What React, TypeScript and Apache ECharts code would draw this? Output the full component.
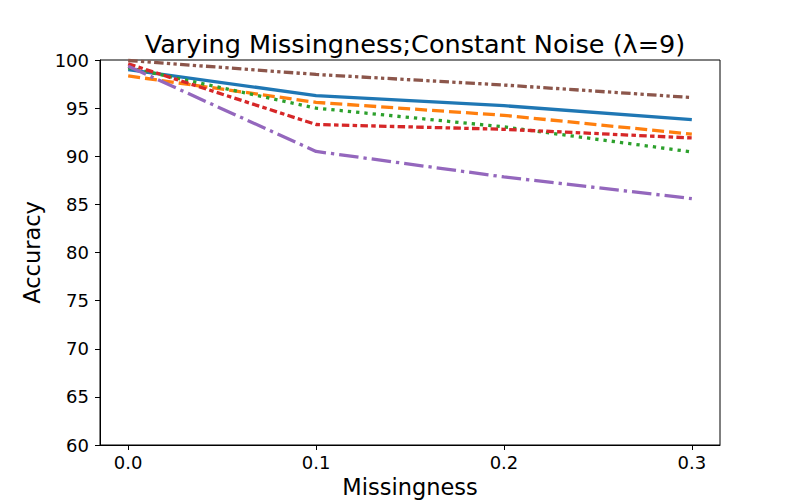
import React, { useEffect, useRef } from "react";
import * as echarts from "echarts";

const missingness = [0.0, 0.1, 0.2, 0.3];
const xTicks = [0.0, 0.1, 0.2, 0.3];
const seriesBlue = [99.0, 96.3, 95.25, 93.8];
const seriesOrange = [98.35, 95.6, 94.25, 92.3];
const seriesGreen = [99.2, 95.0, 93.05, 90.45];
const seriesRed = [99.6, 93.3, 92.8, 91.9];
const seriesPurple = [99.35, 90.5, 87.85, 85.6];
const seriesBrown = [99.95, 98.5, 97.4, 96.1];

const lines = [
  { name: "blue", color: "#1f77b4", values: seriesBlue, type: "solid" as any },
  { name: "orange", color: "#ff7f0e", values: seriesOrange, type: [12, 5] },
  { name: "green", color: "#2ca02c", values: seriesGreen, type: [3.3, 5] },
  { name: "red", color: "#d62728", values: seriesRed, type: [7.5, 3.3, 4.5, 3.3] },
  { name: "purple", color: "#9467bd", values: seriesPurple, type: [19.5, 5, 3.3, 5] },
  { name: "brown", color: "#8c564b", values: seriesBrown, type: [9.5, 3.3, 3.3, 3.3, 3.3, 3.3] },
];

const FONT = "DejaVu Sans";

export default function App() {
  const ref = useRef<HTMLDivElement>(null);
  useEffect(() => {
    document.body.style.margin = "0";
    const chart = echarts.init(ref.current!, null, { renderer: "svg" });
    chart.setOption({
      animation: false,
      backgroundColor: "#ffffff",
      textStyle: { fontFamily: FONT },
      title: {
        text: "Varying Missingness;Constant Noise (λ=9)",
        left: 410,
        textAlign: "center",
        top: 26,
        textStyle: { fontFamily: FONT, fontSize: 25.5, fontWeight: "normal", color: "#000" },
      },
      grid: {
        left: 100,
        right: 80,
        top: 60,
        bottom: 55,
        show: true,
        borderColor: "#000",
        borderWidth: 1,
        containLabel: false,
        outerBoundsMode: "none",
      },
      xAxis: {
        type: "value",
        min: -0.015,
        max: 0.315,
        name: "Missingness",
        nameLocation: "middle",
        nameGap: 29,
        nameTextStyle: { fontFamily: FONT, fontSize: 22.5, color: "#000" },
        axisLine: { show: true, onZero: false, lineStyle: { color: "#000", width: 1 } },
        axisTick: { show: true, inside: false, length: 5, lineStyle: { color: "#000" }, customValues: xTicks },
        axisLabel: {
          fontFamily: FONT,
          fontSize: 18,
          color: "#000",
          margin: 8,
          customValues: xTicks,
          formatter: (v: number) => v.toFixed(1),
        },
        splitLine: { show: false },
      },
      yAxis: {
        type: "value",
        min: 60,
        max: 100,
        interval: 5,
        name: "Accuracy",
        nameLocation: "middle",
        nameGap: 45,
        nameRotate: 90,
        nameTextStyle: { fontFamily: FONT, fontSize: 22.5, color: "#000" },
        axisLine: { show: true, onZero: false, lineStyle: { color: "#000", width: 1 } },
        axisTick: { show: true, inside: false, length: 5, lineStyle: { color: "#000" } },
        axisLabel: { fontFamily: FONT, fontSize: 18, color: "#000", margin: 11 },
        splitLine: { show: false },
      },
      series: lines.map((l) => ({
        name: l.name,
        type: "line",
        data: missingness.map((x, i) => [x, l.values[i]]),
        showSymbol: false,
        symbol: "none",
        clip: false,
        lineStyle: { color: l.color, width: 3.3, type: l.type, cap: "butt" },
      })),
    });
    return () => chart.dispose();
  }, []);
  return <div ref={ref} style={{ width: 800, height: 500 }} />;
}
